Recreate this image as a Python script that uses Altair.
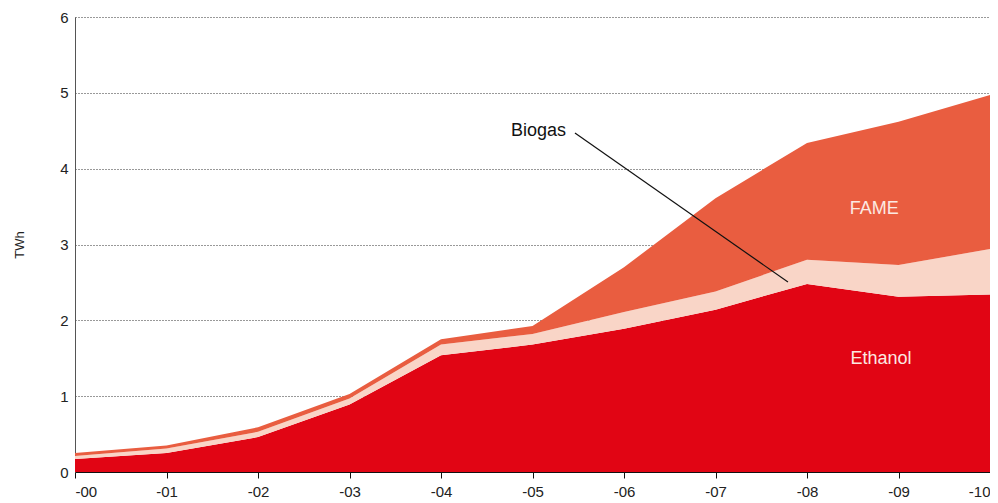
import altair as alt
import pandas as pd

years = [2000, 2001, 2002, 2003, 2004, 2005, 2006, 2007, 2008, 2009, 2010]
ethanol = [0.17, 0.25, 0.46, 0.89, 1.54, 1.68, 1.89, 2.14, 2.48, 2.31, 2.34]
biogas = [0.04, 0.06, 0.07, 0.08, 0.14, 0.14, 0.22, 0.24, 0.32, 0.42, 0.60]
fame = [0.04, 0.04, 0.06, 0.06, 0.07, 0.105, 0.59, 1.23, 1.54, 1.89, 2.03]

series = ["Ethanol", "Biogas", "FAME"]
colors = ["#e10514", "#f9d5c7", "#e95d40"]

rows = []
for name, vals in zip(series, [ethanol, biogas, fame]):
    for yr, v in zip(years, vals):
        rows.append({"year": yr, "value": v, "fuel": name, "order": series.index(name)})
df = pd.DataFrame(rows)

FONT = "Liberation Sans"

x_axis = alt.Axis(
    values=years, labelExpr="'-' + slice(toString(datum.value), 2)",
    grid=False, domainColor="#111", tickColor="#111", tickSize=6,
    labelFontSize=15, labelColor="#222", labelPadding=6, title=None,
    labelFont=FONT, labelOverlap=False,
)
y_axis = alt.Axis(
    values=[0, 1, 2, 3, 4, 5, 6], format="d", grid=True, gridDash=[1, 2],
    gridColor="#333", gridWidth=1, ticks=False, domainColor="#555",
    labelFontSize=15, labelColor="#222", labelPadding=7, title="TWh",
    titleFontSize=13, titleFontWeight="normal", titleColor="#222",
    titlePadding=33, labelFont=FONT, titleFont=FONT,
)

xs = alt.Scale(domain=[2000, 2010], nice=False, zero=False)
ys = alt.Scale(domain=[0, 6], nice=False)

area = alt.Chart(df).mark_area(opacity=1).encode(
    x=alt.X("year:Q", scale=xs, axis=x_axis),
    y=alt.Y("value:Q", stack="zero", scale=ys, axis=y_axis),
    color=alt.Color("fuel:N", scale=alt.Scale(domain=series, range=colors), legend=None),
    order=alt.Order("order:Q"),
)

ann_text = pd.DataFrame({"x": [2005.366], "y": [4.50], "label": ["Biogas"]})
biogas_txt = alt.Chart(ann_text).mark_text(
    align="right", baseline="middle", fontSize=18, font=FONT, color="#111"
).encode(x=alt.X("x:Q", scale=xs), y=alt.Y("y:Q", scale=ys), text="label:N")

line_df = pd.DataFrame({"x": [2005.464], "y": [4.47], "x2": [2007.792], "y2": [2.505]})
leader = alt.Chart(line_df).mark_rule(color="#111", strokeWidth=1.2).encode(
    x=alt.X("x:Q", scale=xs), y=alt.Y("y:Q", scale=ys), x2="x2:Q", y2="y2:Q"
)

inner_df = pd.DataFrame({"x": [2008.735, 2008.809], "y": [3.472, 1.49], "label": ["FAME", "Ethanol"]})
inner_txt = alt.Chart(inner_df).mark_text(
    align="center", baseline="middle", fontSize=18, font=FONT, color="#fce9e2"
).encode(x=alt.X("x:Q", scale=xs), y=alt.Y("y:Q", scale=ys), text="label:N")

chart = alt.layer(area, leader, biogas_txt, inner_txt).properties(
    width=915, height=455,
    autosize=alt.AutoSizeParams(type="none"),
    padding={"left": 67, "top": 9, "right": 0, "bottom": 28},
).configure_view(stroke=None)

chart.save("out.html", embed_options={"renderer": "svg", "actions": False})
